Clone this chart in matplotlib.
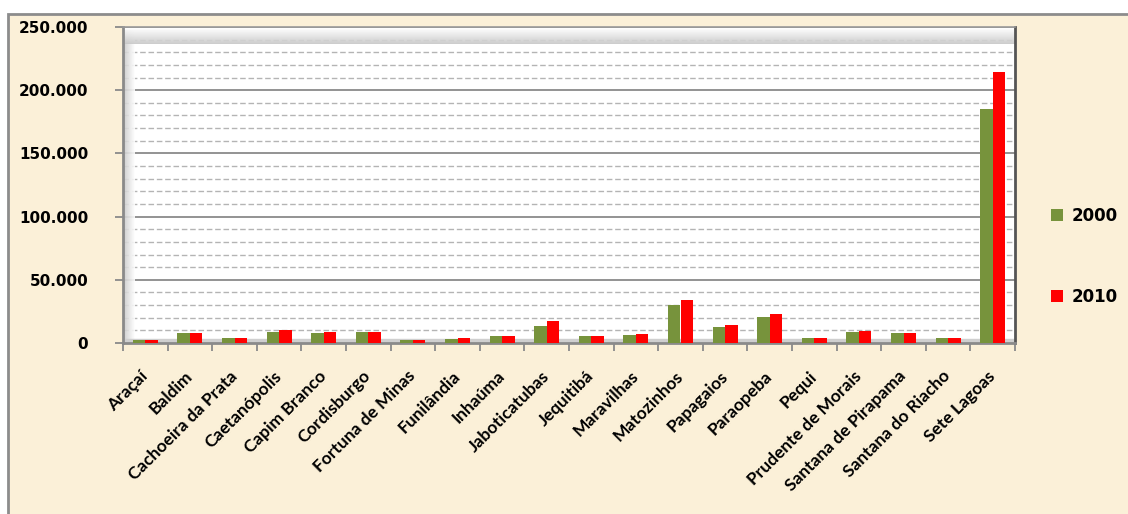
import numpy as np
import matplotlib.pyplot as plt
from matplotlib.patches import Rectangle
from matplotlib.ticker import MultipleLocator, FuncFormatter

municipios = ['Araçaí', 'Baldim', 'Cachoeira da Prata', 'Caetanópolis', 'Capim Branco',
              'Cordisburgo', 'Fortuna de Minas', 'Funilândia', 'Inhaúma', 'Jaboticatubas',
              'Jequitibá', 'Maravilhas', 'Matozinhos', 'Papagaios', 'Paraopeba', 'Pequi',
              'Prudente de Morais', 'Santana de Pirapama', 'Santana do Riacho', 'Sete Lagoas']
pop_2000 = [2175, 8155, 3677, 8567, 7900, 8436, 2434, 3351, 5161, 13530,
            5297, 6658, 30164, 12311, 20383, 3681, 8351, 8305, 3748, 184871]
pop_2010 = [2243, 7913, 3654, 10218, 8881, 8667, 2705, 3855, 5760, 17134,
            5156, 7163, 33955, 14175, 22563, 4076, 9573, 8009, 4023, 214152]
anos = ['2000', '2010']
cores = ['#77933C', '#FF0000']

bg = '#FBF0D8'
fig = plt.figure(figsize=(11.28, 5.14), dpi=100)
fig.patch.set_facecolor('white')
# moldura do grafico
fig.patches.append(Rectangle((8 / 1128, -0.01), 1.0, (514 - 14) / 514 + 0.01,
                             transform=fig.transFigure, facecolor=bg,
                             edgecolor='#8c8c8c', linewidth=2, zorder=-10))

ax = fig.add_axes([123 / 1128, (514 - 343) / 514, (1015 - 123) / 1128, (343 - 27) / 514])
ax.set_facecolor('white')

x = np.arange(len(municipios))
w = 0.28
ax.bar(x - w / 2, pop_2000, w, color=cores[0], label=anos[0], zorder=3)
ax.bar(x + w / 2, pop_2010, w, color=cores[1], label=anos[1], zorder=3)

# sombras do efeito 3D (parede esquerda e topo)
grad = np.linspace(0.78, 1.0, 50).reshape(1, -1)
ax.imshow(grad, cmap='gray', vmin=0, vmax=1, aspect='auto', extent=[0, 0.013, 0, 0.99],
          transform=ax.transAxes, zorder=1, alpha=0.9)
ax.imshow(grad.T[::-1], cmap='gray', vmin=0, vmax=1, aspect='auto', extent=[0, 1, 0.945, 0.995],
          transform=ax.transAxes, zorder=1, alpha=0.9)
ax.axhspan(0, 2800, color='#cfcfcf', zorder=1)
ax.set_xlim(-0.5, len(municipios) - 0.5)
ax.set_ylim(0, 250000)

ax.yaxis.set_major_locator(MultipleLocator(50000))
ax.yaxis.set_minor_locator(MultipleLocator(10000))
ax.yaxis.set_major_formatter(FuncFormatter(lambda v, p: f'{int(v):,}'.replace(',', '.')))
ax.grid(axis='y', which='major', color='#8a8a8a', linewidth=1.3, zorder=2)
ax.grid(axis='y', which='minor', color='#b4b4b4', linewidth=1.0, linestyle=(0, (4, 2)), zorder=2)
ax.set_axisbelow(True)

ax.set_xticks(x)
ax.set_xticklabels(municipios, rotation=45, ha='right', va='center', rotation_mode='anchor',
                   fontsize=12.5, fontweight='bold', family='Lato')
ax.set_xticks(np.arange(-0.5, len(municipios)), minor=True)
ax.tick_params(axis='x', which='major', length=0, pad=22)
ax.tick_params(axis='x', which='minor', length=6, color='#8a8a8a', width=1.3)
ax.tick_params(axis='y', which='major', length=6, color='#8a8a8a', width=1.3, pad=19,
               labelsize=11)
ax.tick_params(axis='y', which='minor', length=0)
for lbl in ax.get_yticklabels():
    lbl.set_fontweight('bold')

for s in ['left', 'bottom']:
    ax.spines[s].set_color('#8a8a8a')
    ax.spines[s].set_linewidth(2)
ax.spines['top'].set_color('#9a9a9a')
ax.spines['top'].set_linewidth(1.2)
ax.spines['right'].set_color('#555555')
ax.spines['right'].set_linewidth(2)

leg = ax.legend(loc='center left', bbox_to_anchor=(1.04, 0.274), frameon=False,
                borderaxespad=0, borderpad=0,
                handlelength=0.75, handleheight=0.75, handletextpad=0.5,
                labelspacing=3.75, prop={'weight': 'bold', 'size': 12})

fig.savefig('out.png', dpi=100, facecolor=fig.get_facecolor())
